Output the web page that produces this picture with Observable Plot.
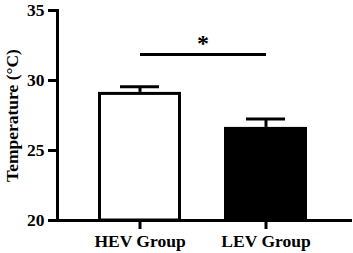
<!DOCTYPE html>
<html><head><meta charset="utf-8">
<script src="https://cdn.jsdelivr.net/npm/d3@7"></script>
<script src="https://cdn.jsdelivr.net/npm/@observablehq/plot@0.6"></script>
<style>
body{margin:0;background:#fff;}
svg{font-family:"Liberation Serif","Times New Roman",serif;font-weight:bold;}
</style></head>
<body><div id="chart"></div>
<script>
const groups = ["HEV Group", "LEV Group"];
const means = [29.15, 26.65];
const errors = [0.4, 0.6];
const fills = ["white", "black"];
const yTicks = [20, 25, 30, 35];
const sigY = 31.85;
const sigLabel = "*";

const data = groups.map((g, i) => ({group: g, mean: means[i], err: errors[i], fill: fills[i]}));
const sig = [{x1: groups[0], x2: groups[1], y: sigY}];

const chart = Plot.plot({
  width: 353, height: 253,
  marginLeft: 57, marginRight: 3, marginTop: 10, marginBottom: 33,
  style: {fontFamily: '"Liberation Serif","Times New Roman",serif', fontSize: "17.5px", fontWeight: "bold", color: "black", background: "white"},
  x: {domain: groups, range: [77, 329], paddingInner: 0.34, paddingOuter: 0.17, label: null},
  y: {domain: [20, 35], label: null},
  marks: [
    Plot.ruleX(data, {x: "group", y1: "mean", y2: d => d.mean + d.err, stroke: "black", strokeWidth: 3}),
    Plot.tickY(data, {x: "group", y: d => d.mean + d.err, stroke: "black", strokeWidth: 3, insetLeft: 22, insetRight: 22}),
    Plot.barY(data, {x: "group", y1: 20, y2: "mean", fill: d => d.fill, stroke: "black", strokeWidth: 3, insetTop: 1.5, insetLeft: 1.5, insetRight: 1.5}),
    Plot.axisY({ticks: yTicks, tickSize: 9, tickPadding: 4, strokeWidth: 3, fontSize: 17.5, label: null}),
    Plot.axisX({tickSize: 9, tickPadding: 5, strokeWidth: 3, fontSize: 17.5, label: null}),
    Plot.frame({anchor: "left", stroke: "black", strokeWidth: 3}),
    Plot.frame({anchor: "bottom", stroke: "black", strokeWidth: 3}),
    Plot.text(["Temperature (°C)"], {frameAnchor: "left", textAnchor: "middle", dx: -45, rotate: -90, fontSize: 17.5, fontWeight: "bold", fill: "black"}),
    Plot.link(sig, {x1: "x1", x2: "x2", y1: "y", y2: "y", stroke: "black", strokeWidth: 3}),
    Plot.text(sig, {x: () => groups[0], y: "y", text: () => sigLabel, dx: 63, dy: -11, fontSize: 24, fontWeight: "bold", fill: "black"})
  ]
});
document.getElementById("chart").append(chart);
</script></body></html>
